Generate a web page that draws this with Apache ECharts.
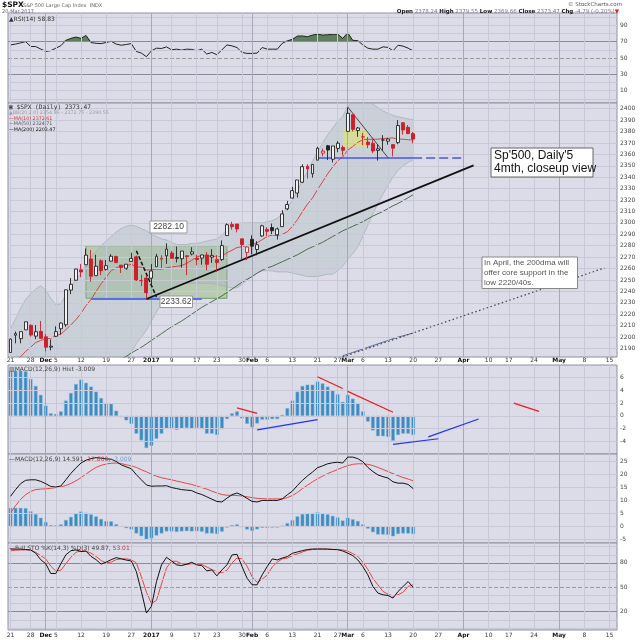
<!DOCTYPE html>
<html><head><meta charset="utf-8">
<script src="https://cdn.jsdelivr.net/npm/echarts@6/dist/echarts.min.js"></script>
<style>html,body{margin:0;padding:0;background:#fff}#c{width:640px;height:640px}</style>
</head><body><div id="c"></div>
<script>
const dates = [
'2016-11-21','2016-11-22','2016-11-23','2016-11-25','2016-11-28','2016-11-29','2016-11-30',
'2016-12-01','2016-12-02','2016-12-05','2016-12-06','2016-12-07','2016-12-08','2016-12-09','2016-12-12','2016-12-13','2016-12-14','2016-12-15','2016-12-16','2016-12-19','2016-12-20','2016-12-21','2016-12-22','2016-12-23','2016-12-27','2016-12-28','2016-12-29','2016-12-30',
'2017-01-03','2017-01-04','2017-01-05','2017-01-06','2017-01-09','2017-01-10','2017-01-11','2017-01-12','2017-01-13','2017-01-17','2017-01-18','2017-01-19','2017-01-20','2017-01-23','2017-01-24','2017-01-25','2017-01-26','2017-01-27','2017-01-30','2017-01-31',
'2017-02-01','2017-02-02','2017-02-03','2017-02-06','2017-02-07','2017-02-08','2017-02-09','2017-02-10','2017-02-13','2017-02-14','2017-02-15','2017-02-16','2017-02-17','2017-02-21','2017-02-22','2017-02-23','2017-02-24','2017-02-27','2017-02-28',
'2017-03-01','2017-03-02','2017-03-03','2017-03-06','2017-03-07','2017-03-08','2017-03-09','2017-03-10','2017-03-13','2017-03-14','2017-03-15','2017-03-16','2017-03-17','2017-03-20',
'2017-03-21','2017-03-22','2017-03-23','2017-03-24','2017-03-27','2017-03-28','2017-03-29','2017-03-30','2017-03-31',
'2017-04-03','2017-04-04','2017-04-05','2017-04-06','2017-04-07','2017-04-10','2017-04-11','2017-04-12','2017-04-13','2017-04-17','2017-04-18','2017-04-19','2017-04-20','2017-04-21','2017-04-24','2017-04-25','2017-04-26','2017-04-27','2017-04-28',
'2017-05-01','2017-05-02','2017-05-03','2017-05-04','2017-05-05','2017-05-08','2017-05-09','2017-05-10','2017-05-11','2017-05-12','2017-05-15','2017-05-16'];

const xTickDates = ['2016-11-21','2016-11-28','2016-12-01','2016-12-05','2016-12-12','2016-12-19','2016-12-27','2017-01-03','2017-01-09','2017-01-17','2017-01-23','2017-01-30','2017-02-01','2017-02-06','2017-02-13','2017-02-21','2017-02-27','2017-03-01','2017-03-06','2017-03-13','2017-03-20','2017-03-27','2017-04-03','2017-04-10','2017-04-17','2017-04-24','2017-05-01','2017-05-08','2017-05-15'];
const xTickText = ['21','28','Dec','5','12','19','27','2017','9','17','23','30','Feb','6','13','21','27','Mar','6','13','20','27','Apr','10','17','24','May','8','15'];
const boldTicks = ['Dec','2017','Feb','Mar','Apr','May'];

const priorClose = 2181.90;
const open = [2186.43,2201.56,2198.55,2206.27,2210.21,2200.76,2204.97,
2200.17,2191.12,2200.65,2207.26,2210.72,2241.13,2249.73,2258.83,2263.32,2268.35,2253.77,2266.81,2259.24,2266.50,2270.54,2262.93,2260.25,2266.23,2270.23,2249.50,2251.61,
2251.57,2261.60,2268.18,2271.14,2273.59,2269.72,2268.60,2271.14,2272.74,2269.14,2269.14,2271.90,2269.96,2267.78,2267.88,2288.88,2298.63,2299.02,2286.01,2274.02,
2285.59,2276.69,2288.54,2294.28,2295.87,2289.55,2296.70,2312.27,2321.72,2326.12,2335.58,2349.64,2343.01,2354.91,2361.11,2367.50,2355.73,2365.23,2366.08,
2380.13,2394.75,2380.92,2375.23,2370.74,2369.81,2363.49,2372.52,2371.56,2368.55,2370.34,2387.71,2383.71,2378.24];
const high = [2198.70,2204.80,2204.72,2213.35,2211.14,2210.46,2214.10,
2202.60,2197.95,2209.42,2212.78,2241.63,2251.69,2259.80,2264.03,2277.53,2276.20,2272.12,2268.05,2267.47,2272.56,2271.23,2263.18,2263.79,2273.82,2271.31,2254.51,2253.58,
2263.88,2272.82,2271.50,2282.10,2275.49,2279.27,2275.32,2271.78,2278.68,2272.08,2272.01,2274.33,2276.96,2271.78,2284.63,2299.55,2300.99,2299.02,2286.01,2279.09,
2289.14,2283.97,2298.31,2296.18,2299.40,2295.91,2311.08,2319.23,2331.58,2337.58,2351.30,2351.31,2351.16,2366.71,2365.13,2368.26,2367.34,2371.54,2367.79,
2400.98,2394.75,2383.89,2378.80,2375.12,2373.09,2369.08,2376.86,2374.42,2368.55,2390.01,2388.10,2385.71,2379.55];
const low = [2186.43,2194.51,2194.51,2206.27,2200.36,2198.15,2198.81,
2187.44,2188.37,2199.97,2202.21,2208.93,2237.57,2249.23,2252.37,2263.32,2248.44,2253.77,2254.24,2258.21,2266.14,2265.15,2256.08,2258.84,2266.15,2249.11,2244.56,2233.62,
2245.13,2261.60,2260.45,2264.06,2268.90,2265.27,2260.83,2254.25,2271.51,2262.81,2263.35,2258.41,2265.01,2257.02,2266.68,2288.88,2294.08,2291.62,2268.04,2267.21,
2272.44,2271.65,2287.88,2288.57,2290.16,2285.38,2296.61,2311.10,2321.42,2322.17,2334.81,2338.87,2339.58,2354.91,2358.34,2355.09,2352.87,2361.87,2358.96,
2380.13,2380.17,2375.39,2367.98,2365.51,2361.01,2354.54,2363.04,2368.52,2358.18,2368.94,2377.18,2377.64,2369.66];
const close = [2198.18,2202.94,2204.72,2213.35,2201.72,2204.66,2198.81,
2191.08,2191.95,2204.71,2212.23,2241.35,2246.19,2259.53,2256.96,2271.72,2253.28,2262.03,2258.07,2262.53,2270.76,2265.18,2260.96,2263.79,2268.88,2249.92,2249.26,2238.83,
2257.83,2270.75,2269.00,2276.98,2268.90,2268.90,2275.32,2270.44,2274.64,2267.89,2271.89,2263.69,2271.31,2265.20,2280.07,2298.37,2296.68,2294.69,2280.90,2278.87,
2279.55,2280.85,2297.42,2292.56,2293.08,2294.67,2307.87,2316.10,2328.25,2337.58,2349.25,2347.22,2351.16,2365.38,2362.82,2363.81,2367.34,2369.75,2363.64,
2395.96,2381.92,2383.12,2375.31,2368.39,2362.98,2364.87,2372.60,2373.47,2365.45,2385.26,2381.38,2378.25,2373.47];

const ma10 = [2172.3,2178.7,2182.8,2187.4,2191.1,2195.2,2197.0,2198.4,2198.9,2201.2,
2202.6,2206.5,2210.6,2215.2,2220.7,2227.5,2232.9,2240.0,2246.6,2252.4,
2258.2,2260.6,2262.1,2262.5,2263.7,2261.5,2261.1,2258.8,2258.8,2259.6,
2259.4,2260.6,2261.4,2261.9,2262.6,2264.6,2267.2,2270.1,2271.5,2270.8,
2271.0,2269.8,2270.9,2273.9,2276.0,2278.4,2279.1,2280.2,2280.9,2282.6,
2285.3,2288.0,2289.3,2288.9,2290.0,2292.2,2296.9,2302.8,2309.8,2316.4,
2321.8,2329.1,2336.0,2342.9,2348.9,2354.3,2357.8,2363.6,2366.9,2370.5,
2372.9,2373.2,2373.2,2373.3,2373.9,2374.2,2374.4,2373.3,2373.3,2372.8,2372.61];
const ma50 = [null,null,null,null,null,null,null,null,null,null,null,null,null,null,null,null,null,null,null,null,null,
2178,2180.5,2183,2186,2188.5,2191,2194,2197,2200,2203,2206,2209,2211.5,2214,2217,2220,2223,2226,2228.5,2231,
2233.5,2236,2239,2242,2245,2248,2250.5,2253,2256,2258.5,2260.5,2262,2264,2266,2268,2270,2272,2274.5,2277,2279,
2281,2283,2285.5,2288,2290.5,2293,2295,2297,2299,2301,2303.5,2306,2308,2310,2312.5,2315,2317,2319.5,2322,2324.71];
const ma200 = [null,null,null,null,null,null,null,null,null,null,null,null,null,null,null,null,null,null,null,null,
null,null,null,null,null,null,null,null,null,null,null,null,null,null,null,null,null,null,null,null,
null,null,null,null,null,null,null,null,null,null,null,null,null,null,null,null,null,null,null,null,
null,null,null,null,null,null,
2183.5,2185,2186.5,2188,2189.5,2191,2192.5,2194,2195.5,2197,2198.5,2200,2201,2202.3,2203.47];
const bbUpper = [2207,2216,2225,2233,2238,2242,2245,2241,2234,2228,
2229,2237,2244,2250,2256,2264,2270,2275,2280,2284,
2288,2292,2295,2297,2298,2297,2295,2293,2290,2288,
2286,2285,2283,2281,2281,2281,2282,2282,2283,2284,
2285,2286,2289,2294,2297,2299,2300,2300,2300,2300,
2300,2301,2302,2304,2308,2313,2320,2328,2337,2345,
2354,2362,2370,2377,2383,2389,2393,2402,2406,2408,
2408,2406,2404,2401,2398,2396,2394,2393,2392,2391,2390.55];
const bbLower = [2084,2081,2079,2078,2081,2085,2090,2105,2122,2139,
2143,2146,2149,2152,2155,2158,2160,2163,2166,2169,
2172,2175,2178,2181,2187,2194,2200,2206,2214,2222,
2229,2235,2240,2244,2246,2247,2247,2247,2247,2247,
2247,2246,2245,2244,2243,2243,2246,2250,2253,2256,
2258,2258,2258,2257,2257,2257,2256,2255,2254,2253,
2253,2253,2254,2255,2255,2258,2262,2268,2273,2279,
2288,2298,2308,2317,2325,2333,2340,2346,2350,2353,2354.96];

const rsi = [66,67,68.5,70,64,64,61,58,59,62,
65,71.6,74,75.6,74,77.6,68.8,68,67.6,69,
70.4,67,65.6,66.5,67.6,58,56,51.6,58.8,62,
61.6,63.6,60,60.8,59.6,60.8,60.5,58.8,60.8,54.8,
56.8,54,60,66,64.8,62.8,56.8,55.6,55.6,56,
62.8,60.8,60.8,60.8,68,71,72.8,76.8,77,76,
78,79.2,78,78.4,78.8,79.2,74,80.8,71.6,71.2,
66,62,60.8,60.8,63.6,63,58.8,65.6,64.5,62,58.83];
const macdHist = [7.1,7.1,7.1,7.0,5.8,4.7,3.3,1.6,0.4,0.3,
0.7,2.4,3.6,5.0,5.7,5.2,4.6,3.8,2.8,2.0,
1.9,0.8,-0.2,-0.7,-1.25,-2.8,-3.85,-5.05,-4.7,-3.6,
-2.8,-2.0,-2.0,-2.2,-2.0,-1.9,-2.0,-1.9,-2.1,-2.8,
-2.8,-3.0,-2.1,-0.5,0.4,0.7,-0.4,-1.25,-1.8,-1.2,
-0.6,-0.6,-0.5,-0.5,0.15,1.2,2.4,3.8,4.7,4.9,
4.9,5.4,5.1,4.6,4.0,3.4,2.2,3.3,2.7,2.0,
0.7,-0.9,-2.3,-3.2,-3.2,-3.3,-3.9,-3.0,-2.8,-2.8,-3.009];
const macdLine = [11.6,14.2,16.5,17.8,18.0,18.0,17.4,16.5,15.4,15.2,
15.6,18.0,20.5,22.6,24.5,25.6,26.2,26.6,26.4,26.1,
26.0,25.1,23.8,23.0,22.3,20.0,18.0,16.0,15.5,15.6,
15.6,15.7,15.0,14.6,14.2,14.0,13.8,12.9,12.3,11.4,
10.5,9.6,9.4,10.9,12.2,12.9,12.0,10.8,9.6,9.4,
10.0,10.0,10.0,10.0,10.6,12.2,13.6,15.8,17.8,19.5,
21.0,22.7,23.4,24.2,24.6,24.8,24.5,26.8,26.8,26.2,
25.0,22.8,21.2,19.9,19.2,18.7,17.2,16.7,16.7,16.2,14.591];
const macdSignal = [5.1,8.0,10.4,12.2,13.5,14.2,14.4,14.5,14.7,15.0,
15.2,15.8,16.6,17.6,18.8,20.2,21.6,22.8,23.6,24.1,
24.4,24.5,24.3,23.8,23.4,22.8,21.9,21.1,20.2,19.4,
18.8,18.4,18.0,17.5,17.1,16.6,16.2,15.6,15.0,14.4,
13.6,12.9,12.3,12.0,12.0,11.9,11.7,11.4,11.1,10.8,
10.7,10.6,10.6,10.6,10.6,11.1,11.9,13.1,14.6,15.9,
17.2,18.4,19.4,20.4,21.2,22.0,22.8,23.5,24.0,24.2,
24.2,24.0,23.5,22.8,22.0,21.2,20.4,19.6,18.9,18.3,17.6];
const stoK = [97,97,97,96.5,96,92,84,79,67,67,
79,90,95,96,94,94.5,88,84,78.5,81,
84,86.5,85,83.5,82.4,69.4,45,18.4,26.6,57,
77.6,86.9,82.4,77.6,76.7,78.4,80.8,77.6,76.7,70.2,
71.4,64.1,71.4,77.6,89.8,90.6,75.5,61.2,53.1,53.1,
65.3,75.5,84.9,83.7,86,87.8,91.8,93.5,95.1,96.5,
97.1,97.1,97.1,97,96.5,96.3,94.7,92,89,83.7,
75.5,65.3,51,42.9,40.8,40,36.8,44.9,51,57.1,49.87];
const stoD = [95,95.5,96,96,95.5,93,89,85,76,70,
71,79,87,93,95,94.5,92,88,83,80,
81,84,85,85,84,80,63,44,30,34,
54,74,82,82,79,78,79,79,78,75,
72,69,68,71,80,86,85,76,63,56,
60,65,75,81,85,86,89,91,93.5,95.5,
96.5,97,97,97,96.7,96.5,96,94.5,91.5,88,
81,72,61,53,45,41.5,39.3,40.8,44,51,53.01];

const mainTicks = [2190,2200,2210,2220,2230,2240,2250,2260,2270,2280,2290,2300,2310,2320,2330,2340,2350,2360,2370,2380,2390,2400];
const rsiTicks = [10,30,50,70,90];
const histTicks = [-4,-2,0,2,4,6];
const macdTicks = [-5,0,5,10,15,20,25];
const stoTicks = [20,50,80];

// annotations in data units: [startIndex, startValue, endIndex, endValue]
const greenBox = [15, 2280.0, 43, 2233.9];
const yellowBox = [66, 2381.8, 71, 2366.5];
const supportLow = [16, 2233.62, 38, 2233.62];
const supportHighSolid = [61, 2357, 80, 2357];
const supportHighDash = [80, 2357, 90, 2357];
const trendUp = [27, 2233.3, 92, 2350.4];
const dashDown = [25, 2275.6, 29, 2235];
const thinDown = [67, 2401.5, 75, 2357.1];
const ma200Proj = [66, 2182.6, 118, 2260.5];
const histRed = [[45, 1.25, 49, 0.4],[61, 6.15, 66, 4.3],[67, 3.85, 76, 0.57],[100, 2.0, 105, 0.7]];
const histBlue = [[49, -2.2, 61, -0.6],[76, -4.5, 85, -3.6],[83, -3.3, 93, -0.5]];

const BG = '#dcdce8', LIGHT = '#c8c8d8', MONTH = '#a8a8ba', DARK = '#8a8a9a';
const FONT = 'DejaVu Sans';

const tickMap = {}; xTickDates.forEach((d,i)=>{ tickMap[d] = xTickText[i]; });

const grids = [
  {top:13, height:90},
  {top:103, height:254},
  {top:365, height:89},
  {top:454, height:89},
  {top:543, height:87}
].map(g => Object.assign({left:8, width:609, show:true, backgroundColor:BG, borderColor:'#8e8e9e', borderWidth:1, containLabel:false, outerBoundsMode:'none'}, g));

const xAxes = grids.map((g, gi) => ({
  type:'category', gridIndex:gi, data:dates, boundaryGap:true,
  axisLine:{show:false}, axisTick:{show:false}, splitLine:{show:false},
  axisLabel:{show: gi===1 || gi===4, hideOverlap:false, margin: gi===1 ? 0 : 2, fontSize:6, fontFamily:FONT, color:'#333',
    interval:(i, v) => v in tickMap,
    formatter:(v) => { const t = tickMap[v] || ''; return boldTicks.includes(t) ? '{b|'+t+'}' : t; },
    rich:{b:{fontWeight:'bold', fontSize:6, fontFamily:FONT, color:'#111'}}}
}));

function yAx(gi, min, max, interval, ticks) {
  return {type:'value', gridIndex:gi, position:'right', min, max, interval,
    axisLine:{show:false}, axisTick:{show:false}, splitLine:{show:false},
    axisLabel:{fontSize:6, fontFamily:FONT, color:'#444', margin:3, hideOverlap:false,
      formatter:(v) => ticks.includes(v) ? String(v) : ''}};
}
const yAxes = [
  yAx(0, -5, 105, 5, rsiTicks),
  yAx(1, 2182.5, 2405, 2.5, mainTicks),
  yAx(2, -6, 8, 2, histTicks),
  yAx(3, -6.5, 28, 0.5, macdTicks),
  yAx(4, -2.5, 104.5, 2.5, stoTicks)
];

const nulls = dates.map(() => null);
function gridHelper(gi, levels) {
  const data = [];
  levels.forEach(l => data.push({yAxis:l[0], lineStyle:{color:l[1], width:1, type:l[2] || 'solid'}}));
  xTickDates.forEach((d,i) => data.push({xAxis:d, lineStyle:{color: boldTicks.includes(xTickText[i]) ? MONTH : LIGHT, width:1, type:'solid'}}));
  return {type:'line', xAxisIndex:gi, yAxisIndex:gi, data:nulls, symbol:'none', silent:true, z:1,
    markLine:{silent:true, symbol:['none','none'], animation:false, label:{show:false}, data}};
}
function boxHelper(gi, list) {
  return {type:'line', xAxisIndex:gi, yAxisIndex:gi, data:nulls, symbol:'none', silent:true, z:9,
    markLine:{silent:true, symbol:['none','none'], animation:false,
      data:list.map(b => ({yAxis:b[0], lineStyle:{width:0, opacity:0},
        label:{show:true, position:'end', distance:1, formatter:b[1], fontSize:6, fontFamily:FONT,
          color:b[2] || '#333', backgroundColor:'#fff', borderColor:b[3] || '#888', borderWidth:0.8, padding:[0.5,1]}}))}};
}
function segs(list, style) {
  return list.map(s => [{coord:[dates[s[0]], s[1]], lineStyle:style}, {coord:[dates[s[2]], s[3]]}]);
}
const L = (v,c,t) => [v,c,t];

const candleData = close.map((c, i) => {
  const o = open[i], prev = i ? close[i-1] : priorClose;
  const col = c < prev ? '#cc1f2a' : '#222';
  const fill = c >= o ? '#f0f0f5' : col;
  return {value:[o, c, low[i], high[i]], itemStyle:{color:fill, color0:fill, borderColor:col, borderColor0:col, borderWidth:0.9}};
});

const lineS = (gi, data, color, width, z, extra) => Object.assign({type:'line', xAxisIndex:gi, yAxisIndex:gi, data, symbol:'none', showSymbol:false, silent:true, z, lineStyle:{color, width}}, extra || {});

const series = [
  gridHelper(0, [L(0,LIGHT),L(10,LIGHT),L(20,LIGHT),L(40,LIGHT),L(60,LIGHT),L(80,LIGHT),L(90,LIGHT),L(100,LIGHT),L(30,DARK),L(70,DARK),L(50,'#999','dashed')]),
  gridHelper(1, mainTicks.map(v => L(v, LIGHT))),
  gridHelper(2, histTicks.map(v => L(v, LIGHT))),
  gridHelper(3, macdTicks.map(v => L(v, LIGHT))),
  gridHelper(4, [L(0,LIGHT),L(10,LIGHT),L(30,LIGHT),L(40,LIGHT),L(60,LIGHT),L(70,LIGHT),L(90,LIGHT),L(100,LIGHT),L(20,DARK),L(80,DARK),L(50,'#999','dashed')]),

  // RSI
  lineS(0, rsi.map(() => 70), '#000', 0, 2, {stack:'rsi', lineStyle:{opacity:0}}),
  lineS(0, rsi.map(v => Math.max(v - 70, 0)), '#000', 0, 2, {stack:'rsi', lineStyle:{opacity:0}, areaStyle:{color:'#5f7f5f', opacity:1}}),
  lineS(0, rsi, '#222', 1, 4),

  // Main: Bollinger band
  lineS(1, bbLower, '#a9b1b9', 0.8, 2, {stack:'bb'}),
  lineS(1, bbUpper.map((u, i) => u - bbLower[i]), '#a9b1b9', 0.8, 2, {stack:'bb', areaStyle:{color:'rgba(160,182,182,0.45)'}}),
  // boxes
  {type:'line', xAxisIndex:1, yAxisIndex:1, data:nulls, symbol:'none', silent:true, z:3,
    markArea:{silent:true, animation:false, data:[
      [{xAxis:dates[greenBox[0]], yAxis:greenBox[1], itemStyle:{color:'rgba(125,172,95,0.38)', borderColor:'rgba(105,150,85,0.9)', borderWidth:1}}, {xAxis:dates[greenBox[2]], yAxis:greenBox[3]}],
      [{xAxis:dates[yellowBox[0]], yAxis:yellowBox[1], itemStyle:{color:'rgba(248,244,110,0.75)', borderWidth:0}}, {xAxis:dates[yellowBox[2]], yAxis:yellowBox[3]}]
    ]}},
  lineS(1, ma200, '#5a6a9a', 1, 4),
  lineS(1, ma50, '#4d6b4d', 1, 4),
  lineS(1, ma10, '#d04848', 1, 4),
  {type:'candlestick', xAxisIndex:1, yAxisIndex:1, data:candleData, barWidth:3.4, silent:true, z:5},
  {type:'line', xAxisIndex:1, yAxisIndex:1, data:nulls, symbol:'none', silent:true, z:7,
    markLine:{silent:true, symbol:['none','none'], animation:false, label:{show:false}, data:[].concat(
      segs([supportLow], {color:'#5a6ee8', width:2.2, type:'solid'}),
      segs([supportHighSolid], {color:'#4656e6', width:1.5, type:'solid'}),
      segs([supportHighDash], {color:'#4656e6', width:1.5, type:[9,4]}),
      segs([trendUp], {color:'#111', width:1.8, type:'solid'}),
      segs([dashDown], {color:'#111', width:1.5, type:[4,2]}),
      segs([thinDown], {color:'#222', width:0.8, type:'solid'}),
      segs([ma200Proj], {color:'#444', width:1.2, type:[1.5,2.5]})
    )}},

  // MACD histogram panel
  {type:'bar', xAxisIndex:2, yAxisIndex:2, data:macdHist, barWidth:3.6, silent:true, z:3, itemStyle:{color:'#3b8cc3', borderColor:'#7fb0d4', borderWidth:0.5}},
  {type:'line', xAxisIndex:2, yAxisIndex:2, data:nulls, symbol:'none', silent:true, z:7,
    markLine:{silent:true, symbol:['none','none'], animation:false, label:{show:false}, data:[].concat(
      segs(histRed, {color:'#ee1c1c', width:1.2, type:'solid'}),
      segs(histBlue, {color:'#2233ee', width:1.2, type:'solid'})
    )}},

  // MACD panel
  {type:'bar', xAxisIndex:3, yAxisIndex:3, data:macdHist, barWidth:3.6, silent:true, z:3, itemStyle:{color:'#3b8cc3', borderColor:'#7fb0d4', borderWidth:0.5}},
  lineS(3, macdSignal, '#e04848', 1, 4),
  lineS(3, macdLine, '#111', 1, 5),

  // Full STO
  lineS(4, stoD, '#e04848', 1, 4),
  lineS(4, stoK, '#111', 1, 5),

  boxHelper(0, [[58.83, '58.83', '#222', '#333']]),
  boxHelper(1, [[2390.55, '2390.55'], [2373.47, '2373.47', '#111', '#222'], [2354.96, '2354.96'], [2324.71, '2324.71'], [2203.47, '2203.47']]),
  boxHelper(2, [[-3.009, '-3.009']]),
  boxHelper(3, [[17.6, '17.600', '#d03030', '#e07070'], [14.591, '14.591', '#222', '#333'], [-3.009, '-3.009']]),
  boxHelper(4, [[53.01, '53.01', '#d03030', '#e07070'], [49.87, '49.87', '#222', '#333']])
];

function txt(x, y, text, font, fill, extra) {
  return {type:'text', x, y, silent:true, z:100, style:Object.assign({text, fill, font, verticalAlign:'middle', align:'left'}, extra || {})};
}
const F = (s, fam, w) => (w ? w + ' ' : '') + s + 'px "' + (fam || FONT) + '"';
function box(x, y, w, h, stroke) {
  return {type:'rect', silent:true, z:99, shape:{x, y, width:w, height:h}, style:{fill:'#fff', stroke, lineWidth:1}};
}
const richB = {b:{fontWeight:'bold', fontSize:5.5, fontFamily:FONT, fill:'#111'}, r:{fontSize:5.5, fontFamily:FONT, fill:'#cc1f2a'}};
const graphic = [
  txt(2, 5.5, '$SPX', F(7.5, FONT, 'bold'), '#111'),
  txt(23, 5.5, 'S&P 500 Large Cap Index  INDX', F(5), '#666'),
  txt(2, 11.5, '20-Mar-2017', F(5), '#666'),
  txt(622, 5, '© StockCharts.com', F(5.5), '#555', {align:'right'}),
  txt(619, 11.5, '{b|Open} 2378.24 {b|High} 2379.55 {b|Low} 2369.66 {b|Close} 2373.47 {b|Chg} -4.79 (-0.20%){r|▼}', F(5.5), '#777', {align:'right', rich:richB}),
  txt(9, 19, '▲RSI(14) 58.83', F(6), '#333'),
  txt(9, 107.5, '▣ $SPX (Daily) 2373.47', F(6.2, 'DejaVu Sans Mono'), '#333'),
  txt(9, 113, '▲BB(20,2.0) 2354.96 - 2372.75 - 2390.55', F(4.8), '#9a9aa6'),
  txt(9, 118.5, '—MA(10) 2372.61', F(4.8), '#cc3838'),
  txt(9, 124, '—MA(50) 2324.71', F(4.8), '#555'),
  txt(9, 129.5, '—MA(200) 2203.47', F(4.8), '#111'),
  txt(9, 369.5, '▥MACD(12,26,9) Hist -3.009', F(6), '#444'),
  txt(9, 459.5, '—MACD(12,26,9) 14.591, {r|17.600}, {c|-3.009}', F(6), '#444', {rich:{r:{fontSize:6, fontFamily:FONT, fill:'#d03030'}, c:{fontSize:6, fontFamily:FONT, fill:'#7a9ad0'}}}),
  txt(9, 548, '—Full STO %K(14,3) %D(3) 49.87, {r|53.01}', F(6), '#444', {rich:{r:{fontSize:6, fontFamily:FONT, fill:'#d03030'}}}),

  box(491, 148, 102, 29, '#666'),
  txt(494, 156, "Sp'500, Daily'5", F(12, 'Liberation Sans'), '#111'),
  txt(494, 169, '4mth, closeup view', F(12, 'Liberation Sans'), '#111'),
  box(482, 257, 95.5, 31.5, '#888'),
  txt(484, 262.5, 'In April, the 200dma will', F(8, 'Liberation Sans'), '#555'),
  txt(484, 272.5, 'offer core support in the', F(8, 'Liberation Sans'), '#555'),
  txt(484, 282.5, 'low 2220/40s.', F(8, 'Liberation Sans'), '#555'),
  box(150, 221, 37, 12, '#999'),
  txt(168.5, 227, '2282.10', F(8.5, 'Liberation Sans'), '#444', {align:'center'}),
  box(160, 296, 32.5, 11.5, '#999'),
  txt(176.2, 302, '2233.62', F(8.5, 'Liberation Sans'), '#444', {align:'center'})
];

const chart = echarts.init(document.getElementById('c'), null, {renderer:'canvas'});
chart.setOption({animation:false, backgroundColor:'#fff', grid:grids, xAxis:xAxes, yAxis:yAxes, series, graphic});
</script></body></html>
